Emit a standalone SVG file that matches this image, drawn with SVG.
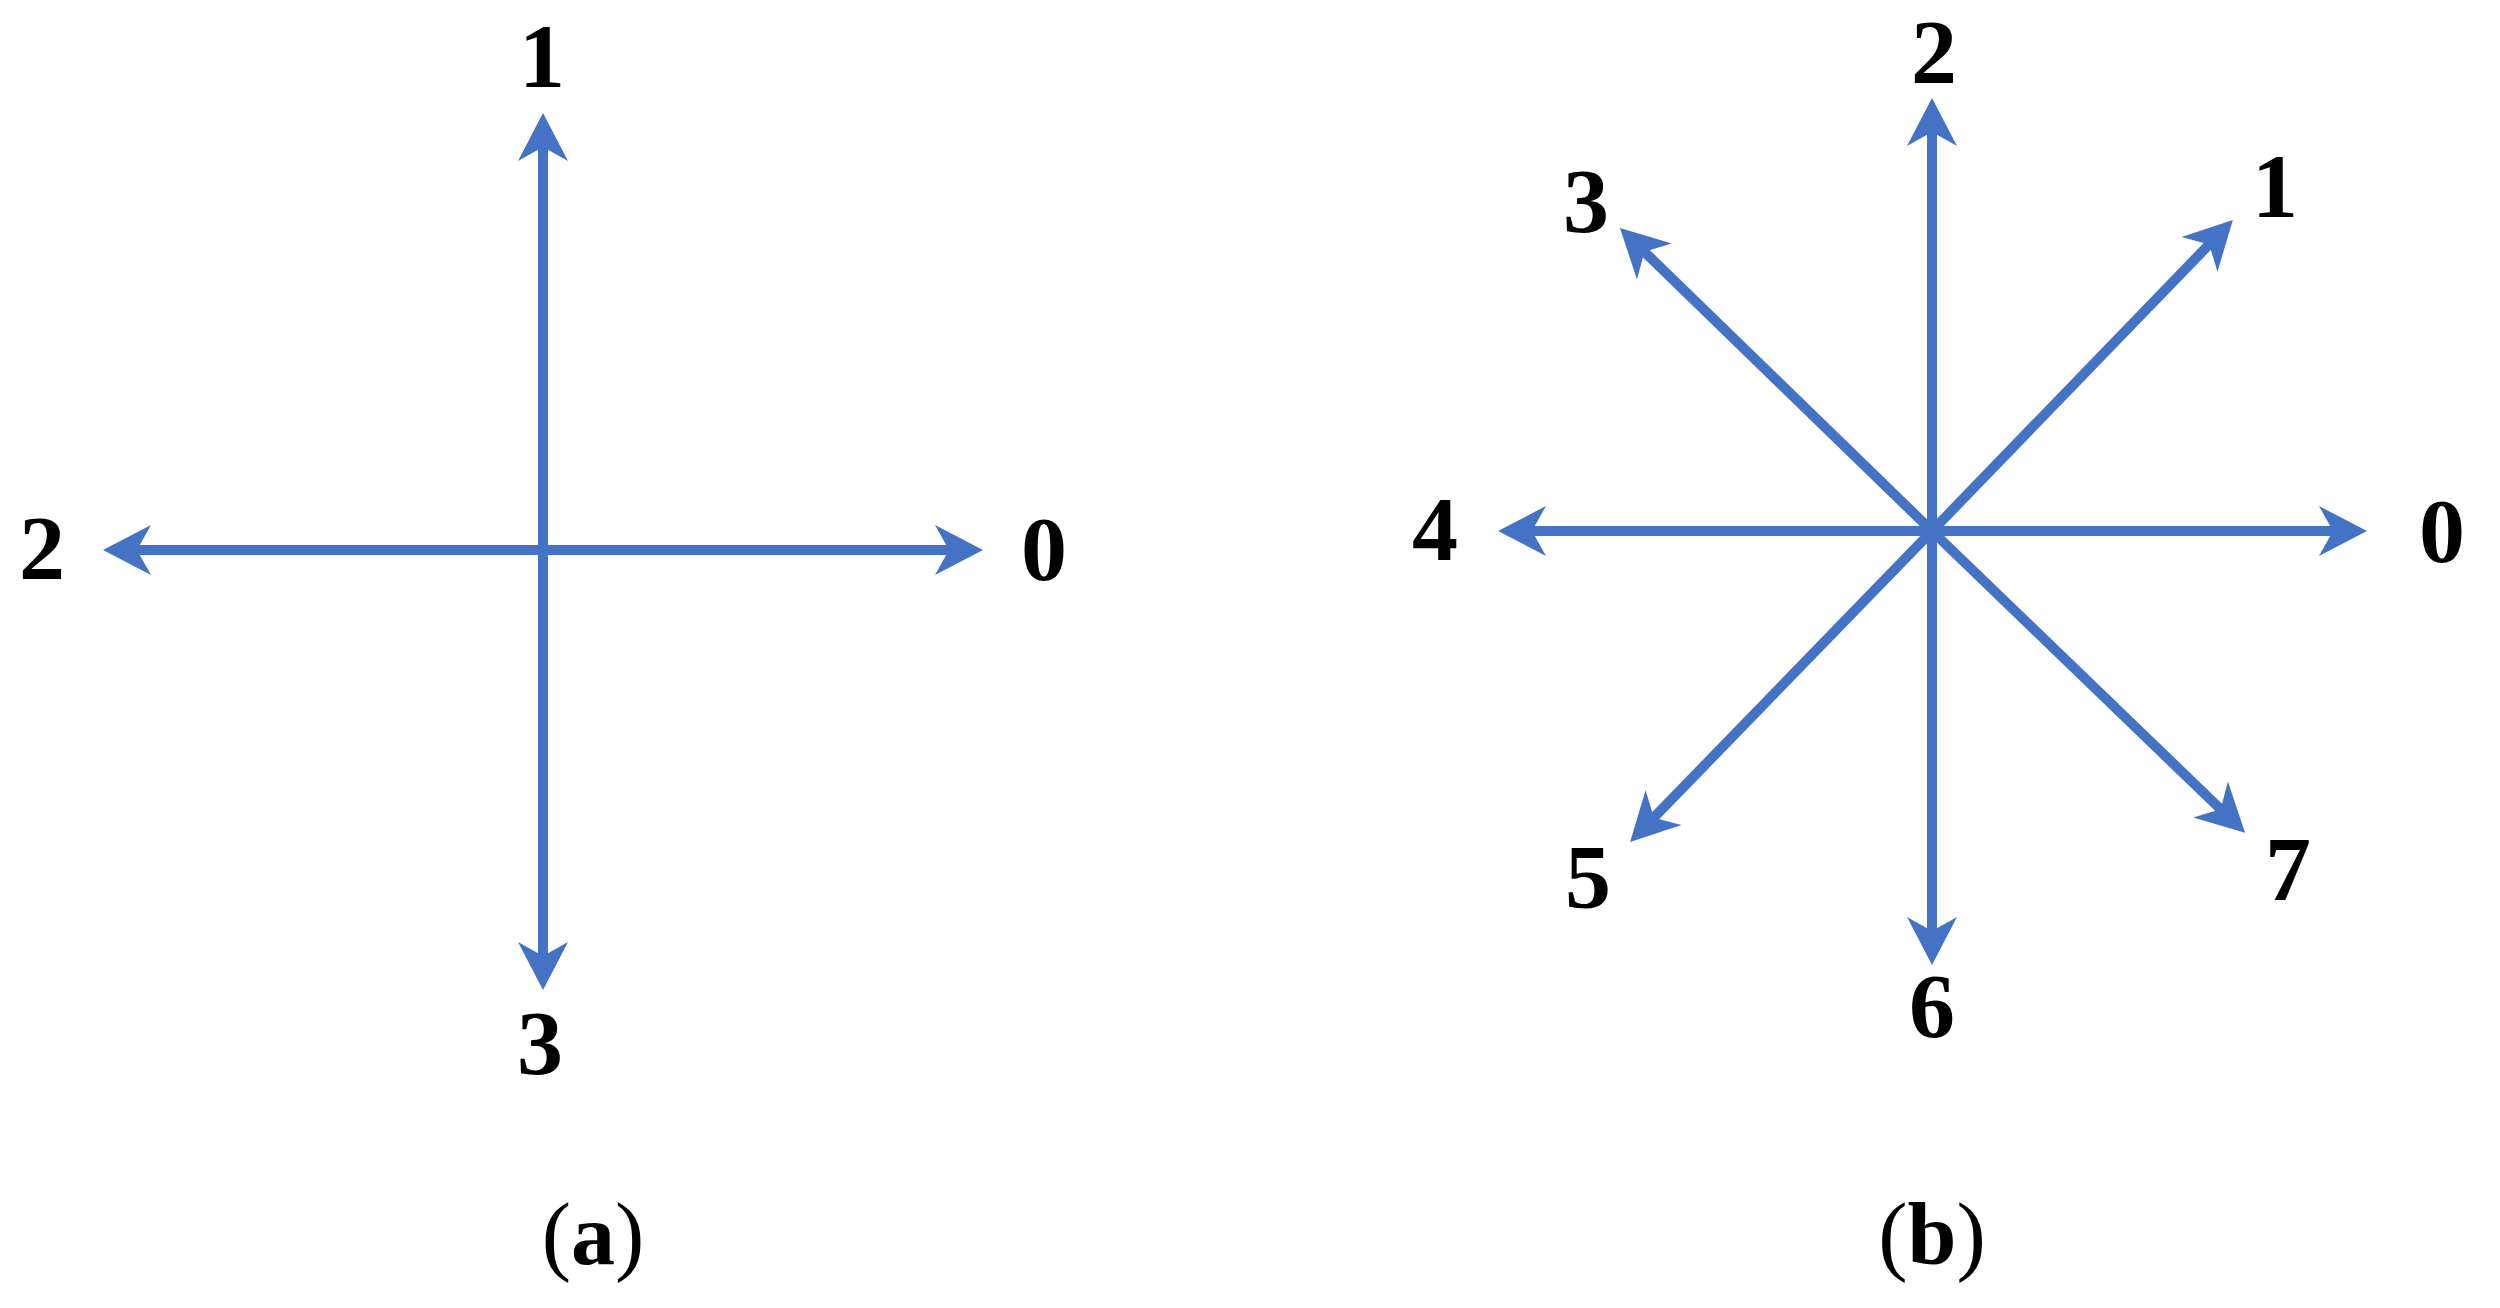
<svg xmlns="http://www.w3.org/2000/svg" width="2500" height="1308" viewBox="0 0 2500 1308">
<style>
.ln{stroke:#4472C4;stroke-width:10;fill:none;marker-end:url(#ah)}
.lb{font-family:"Liberation Serif","Times New Roman",serif;font-weight:bold;font-size:92px;fill:#000;text-anchor:middle}
.cap{font-family:"Liberation Serif","Times New Roman",serif;font-size:88px;fill:#000;text-anchor:middle}
</style>
<defs>
<marker id="ah" markerUnits="userSpaceOnUse" orient="auto" refX="0" refY="0" markerWidth="60" markerHeight="60" overflow="visible">
<path d="M30,0 L-18,-25 L-4,0 L-18,25 Z" fill="#4472C4"/>
</marker>
</defs>
<rect width="2500" height="1308" fill="#fff"/>
<g id="connectors">
<line class="ln" x1="543" y1="550" x2="543" y2="143"/>
<line class="ln" x1="543" y1="550" x2="543" y2="960"/>
<line class="ln" x1="543" y1="550" x2="133" y2="550"/>
<line class="ln" x1="543" y1="550" x2="953" y2="550"/>
<line class="ln" x1="1932" y1="531" x2="1932" y2="128"/>
<line class="ln" x1="1932" y1="531" x2="1932" y2="935"/>
<line class="ln" x1="1932" y1="531" x2="1528" y2="531"/>
<line class="ln" x1="1932" y1="531" x2="2337" y2="531"/>
<line class="ln" x1="1932" y1="531" x2="2212" y2="241.5"/>
<line class="ln" x1="1932" y1="531" x2="1641.5" y2="249"/>
<line class="ln" x1="1932" y1="531" x2="1651" y2="820.5"/>
<line class="ln" x1="1932" y1="531" x2="2223.5" y2="812"/>
</g>
<g id="a-label-1"><text class="lb" x="542" y="87">1</text></g>
<g id="a-label-2"><text class="lb" x="42" y="579">2</text></g>
<g id="a-label-0"><text class="lb" x="1044" y="580">0</text></g>
<g id="a-label-3"><text class="lb" x="540" y="1074">3</text></g>
<g id="b-label-2"><text class="lb" x="1934" y="83">2</text></g>
<g id="b-label-3"><text class="lb" x="1586" y="232">3</text></g>
<g id="b-label-1"><text class="lb" x="2275" y="217">1</text></g>
<g id="b-label-4"><text class="lb" x="1435" y="560">4</text></g>
<g id="b-label-0"><text class="lb" x="2442" y="562">0</text></g>
<g id="b-label-5"><text class="lb" x="1588" y="908">5</text></g>
<g id="b-label-7"><text class="lb" x="2288" y="900">7</text></g>
<g id="b-label-6"><text class="lb" x="1932" y="1037">6</text></g>
<g id="caption-a"><text class="cap" x="593" y="1264">(<tspan font-weight="bold">a</tspan>)</text></g>
<g id="caption-b"><text class="cap" x="1932" y="1264">(<tspan font-weight="bold">b</tspan>)</text></g>
</svg>
